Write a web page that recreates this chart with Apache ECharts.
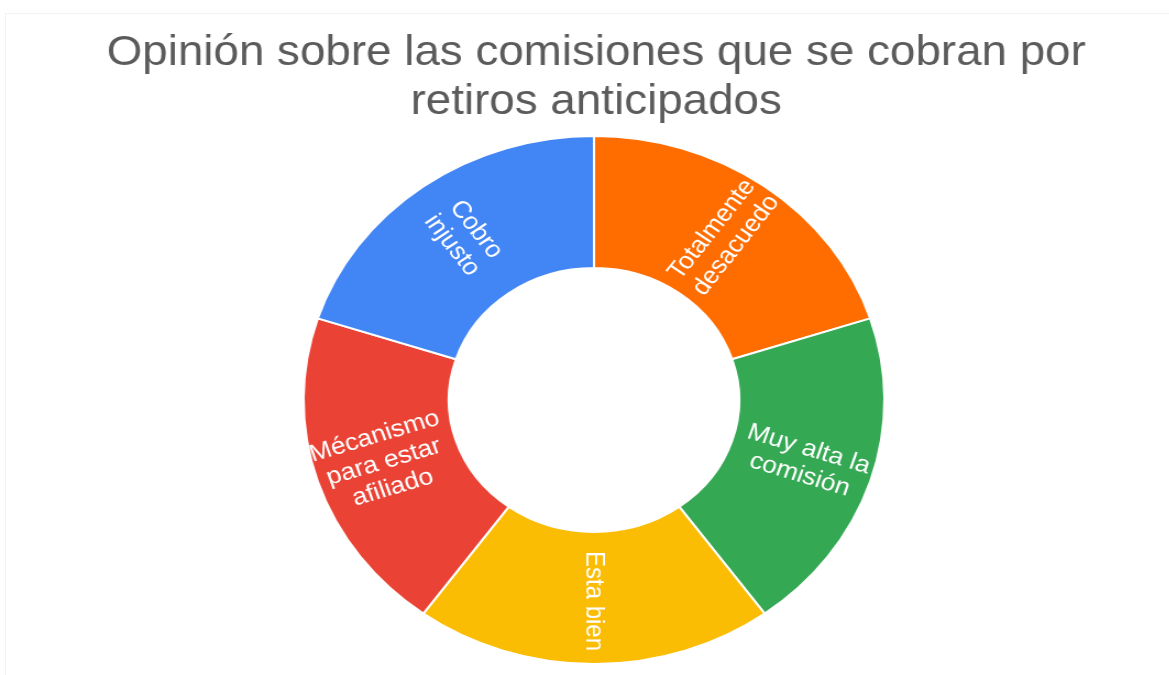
<!DOCTYPE html>
<html>
<head>
<meta charset="utf-8">
<script src="https://cdn.jsdelivr.net/npm/echarts@6/dist/echarts.min.js"></script>
<style>
  html, body { margin: 0; padding: 0; background: #ffffff; overflow: hidden; }
  #frame {
    position: absolute; left: 5px; top: 13px; width: 1200px; height: 700px;
    border-left: 1px solid #f3f3f3; border-top: 1px solid #f3f3f3;
  }
  /* the chart is drawn on a narrower canvas and widened horizontally */
  #chart {
    position: absolute; left: 0; top: 0; width: 1063px; height: 675px;
    transform: scaleX(1.1); transform-origin: 0 0;
  }
</style>
</head>
<body>
<div id="frame"></div>
<div id="chart"></div>
<script>
const titleText = 'Opinión sobre las comisiones que se cobran por\nretiros anticipados';
const categories = [
  'Totalmente desacuedo',
  'Muy alta la comisión',
  'Esta bien',
  'Mécanismo para estar afiliado',
  'Cobro injusto'
];
const labelLines = [
  'Totalmente\ndesacuedo',
  'Muy alta la\ncomisión',
  'Esta bien',
  'Mécanismo\npara estar\nafiliado',
  'Cobro\ninjusto'
];
const values = [20, 20, 20, 20, 20];
const colors = ['#FF6D01', '#34A853', '#FBBC04', '#EA4335', '#4285F4'];

const chart = echarts.init(document.getElementById('chart'));
chart.setOption({
  backgroundColor: 'transparent',
  animation: false,
  title: {
    text: titleText,
    left: 537,
    top: 24,
    textAlign: 'center',
    textStyle: {
      fontFamily: 'Arial, "Liberation Sans", sans-serif',
      fontSize: 41.6,
      fontWeight: 'normal',
      color: '#5b5b5b',
      lineHeight: 49
    }
  },
  series: [{
    type: 'pie',
    center: [540, 400],
    radius: [132, 264],
    startAngle: 90,
    clockwise: true,
    avoidLabelOverlap: false,
    itemStyle: { borderColor: '#ffffff', borderWidth: 2 },
    label: {
      show: true,
      position: 'inside',
      rotate: 'radial',
      color: '#ffffff',
      fontFamily: 'Arial, "Liberation Sans", sans-serif',
      fontSize: 24,
      lineHeight: 27,
      formatter: p => labelLines[p.dataIndex]
    },
    labelLine: { show: false },
    emphasis: { disabled: true },
    data: categories.map((name, i) => ({
      name: name,
      value: values[i],
      itemStyle: { color: colors[i] }
    }))
  }]
});
</script>
</body>
</html>
